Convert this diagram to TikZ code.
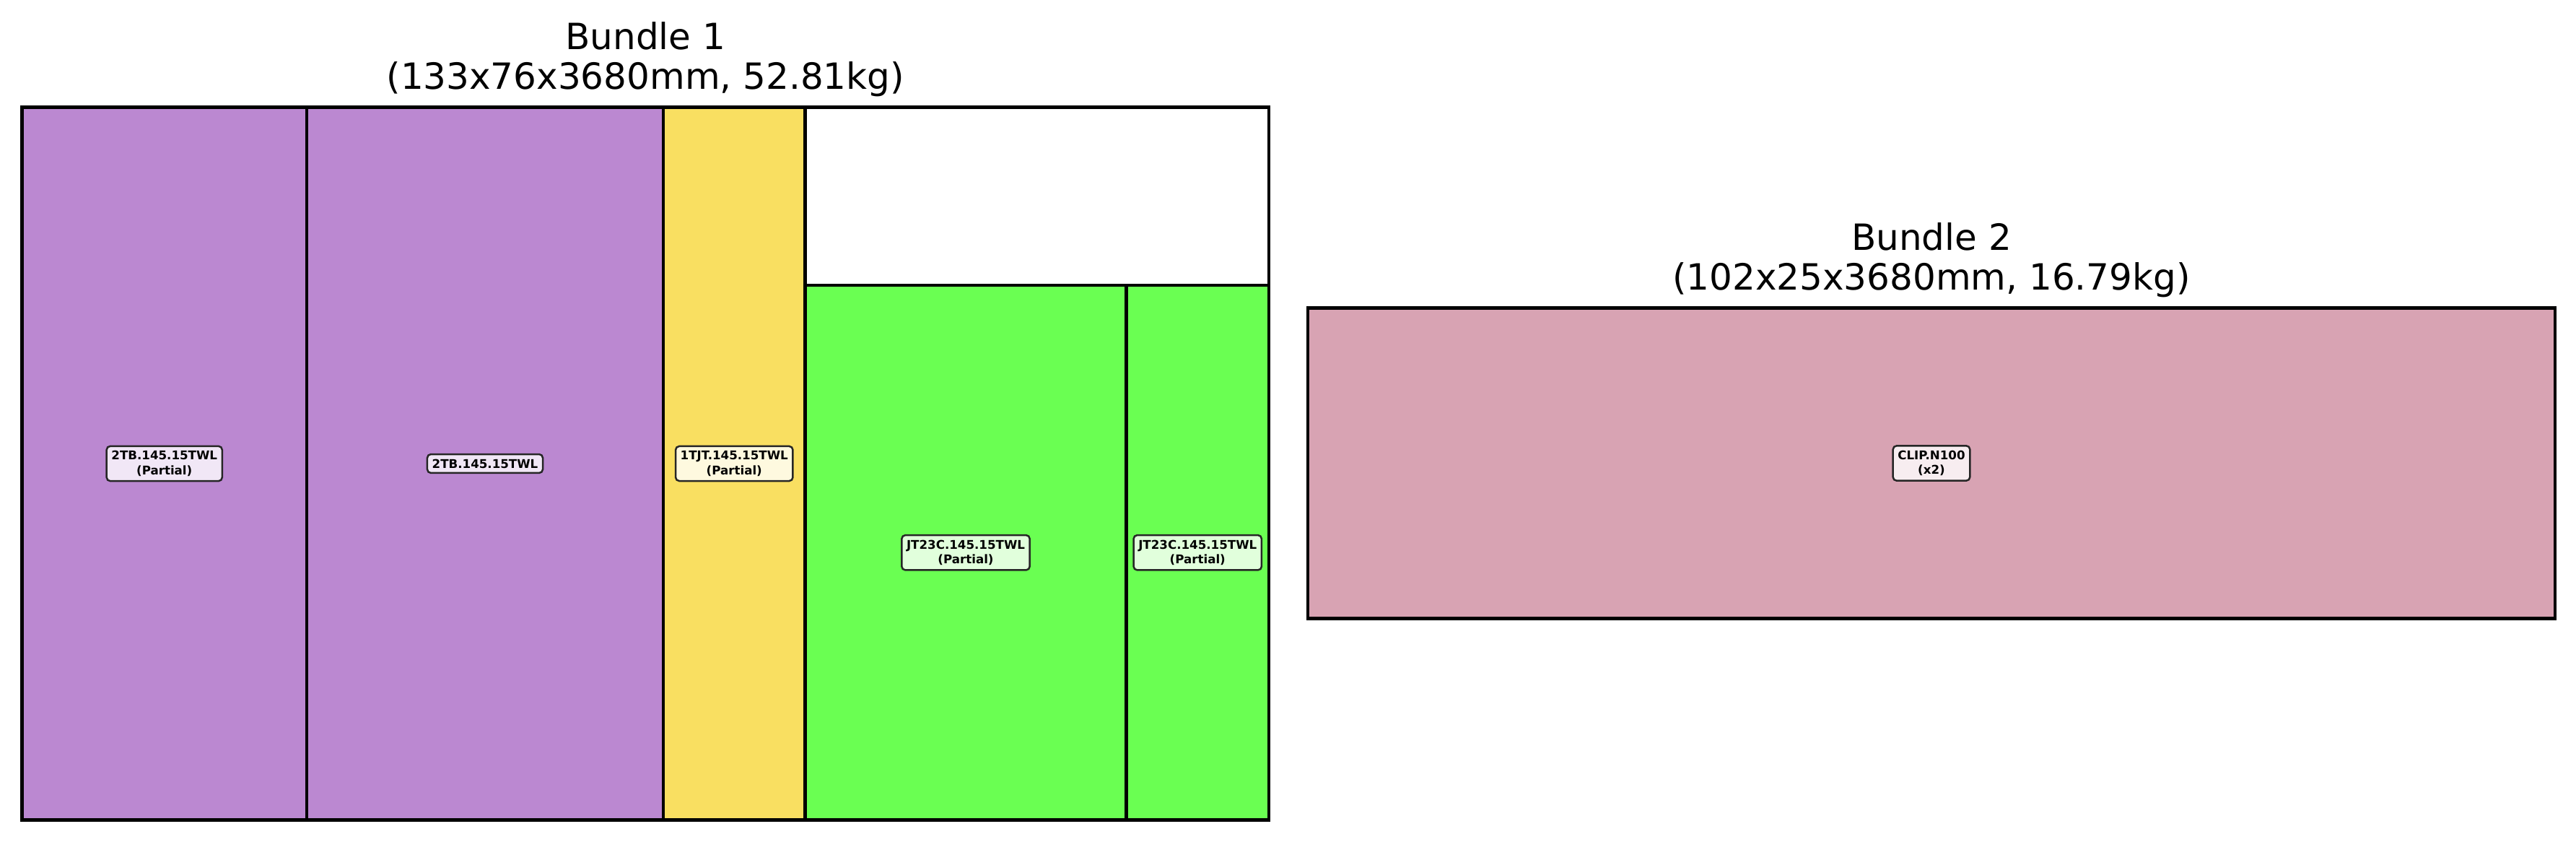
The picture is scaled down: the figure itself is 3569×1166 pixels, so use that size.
\documentclass[tikz,border=0pt]{standalone}
\usepackage{fontspec}
\setmainfont{DejaVu Sans}
\definecolor{cpurple}{RGB}{187,136,209}
\definecolor{cyellow}{RGB}{249,223,97}
\definecolor{cgreen}{RGB}{106,255,82}
\definecolor{cpink}{RGB}{216,163,179}
\begin{document}
\begin{tikzpicture}[x=0.24pt,y=-0.24pt,
  item/.style={draw=black,line width=1pt},
  lbl/.style={draw=black!85,line width=0.6pt,rounded corners=1.2pt,inner sep=1.6pt,align=center,font=\fontsize{4}{4.9}\selectfont\bfseries},
  ttl/.style={anchor=base,font=\fontsize{12}{14}\selectfont}]
\useasboundingbox (0,0) rectangle (3569,1166);
% Bundle 1
\draw[item,fill=cpurple] (30.5,148.5) rectangle (425,1135.5);
\draw[item,fill=cpurple] (425,148.5) rectangle (919,1135.5);
\draw[item,fill=cyellow] (919,148.5) rectangle (1115.5,1135.5);
\draw[item,fill=cgreen] (1115.5,395) rectangle (1560.5,1135.5);
\draw[item,fill=cgreen] (1560.5,395) rectangle (1758,1135.5);
\draw[item] (30.5,148.5) rectangle (1758,1135.5);
% Bundle 2
\draw[item,fill=cpink] (1812,426.5) rectangle (3540,856.5);
% labels
\node[lbl,fill=cpurple!20!white] (l1) at (227.75,642) {2TB.145.15TWL\\(Partial)};
\node[lbl,fill=cpurple!20!white] (l2) at (672,642) {2TB.145.15TWL};
\node[lbl,fill=cyellow!20!white] (l3) at (1017.25,642) {1TJT.145.15TWL\\(Partial)};
\node[lbl,fill=cgreen!20!white] (l4) at (1338,765.25) {JT23C.145.15TWL\\(Partial)};
\node[lbl,fill=cgreen!20!white] (l5) at (1659.25,765.25) {JT23C.145.15TWL\\(Partial)};
\node[lbl,fill=cpink!20!white] (l6) at (2676,641.5) {CLIP.N100\\(x2)};
% titles
\node[ttl] (t1a) at (894.25,68.5) {Bundle 1};
\node[ttl] (t1b) at (894.25,123.5) {(133x76x3680mm, 52.81kg)};
\node[ttl] (t2a) at (2676,346) {Bundle 2};
\node[ttl] (t2b) at (2676,401) {(102x25x3680mm, 16.79kg)};
\end{tikzpicture}
\end{document}
